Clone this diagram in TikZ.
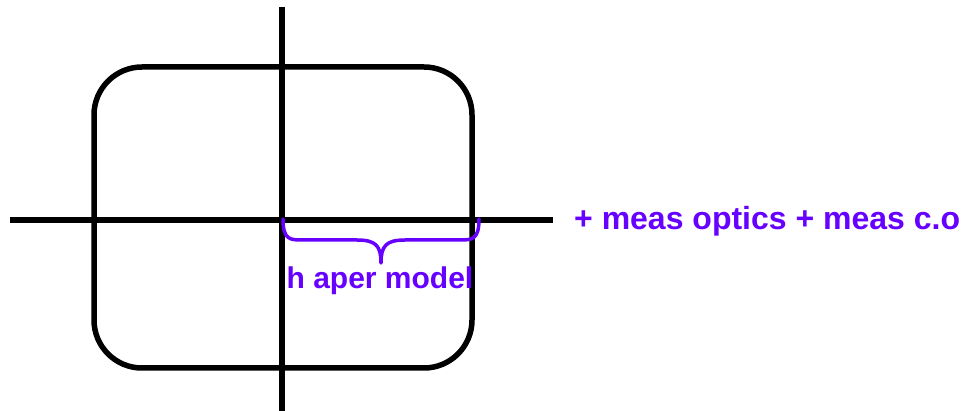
\documentclass[tikz,border=0pt]{standalone}
\usepackage{fontspec}
\setmainfont{Liberation Sans}
\definecolor{violetlabel}{RGB}{102,0,255}
\begin{document}
\begin{tikzpicture}[x=1pt,y=-1pt,
  axis/.style={line width=6pt,black},
  aperture/.style={line width=5.5pt,black,rounded corners=48pt},
  bracket/.style={line width=3.5pt,violetlabel,line cap=round,line join=round},
  note/.style={text=violetlabel,font=\bfseries\fontsize{30}{30}\selectfont,inner sep=0pt},
  bignote/.style={note,font=\bfseries\fontsize{32}{32}\selectfont}]
  \useasboundingbox (0,0) rectangle (961,411);
  % aperture outline
  \draw[aperture] (94,67) rectangle (472,368);
  % axes
  \coordinate (ytop) at (282,7);
  \coordinate (ybot) at (282,411);
  \coordinate (xl) at (10,220);
  \coordinate (xr) at (553,220);
  \draw[axis] (ytop) -- (ybot);
  \draw[axis] (xl) -- (xr);
  % brace spanning the half aperture
  \coordinate (bl) at (283,219);
  \coordinate (br) at (479,219);
  \coordinate (tip) at (381,263);
  \draw[bracket] (bl) .. controls (283,240) and (290,240) .. (303,240)
    -- (357,240) .. controls (376,240) and (381,246) .. (tip)
    .. controls (381,246) and (386,240) .. (405,240)
    -- (459,240) .. controls (472,240) and (479,240) .. (br);
  \node[note,anchor=north] (haper) at (380,267) {h aper model};
  \node[bignote,anchor=west] (meas) at (574,221) {+ meas optics + meas c.o};
\end{tikzpicture}
\end{document}
